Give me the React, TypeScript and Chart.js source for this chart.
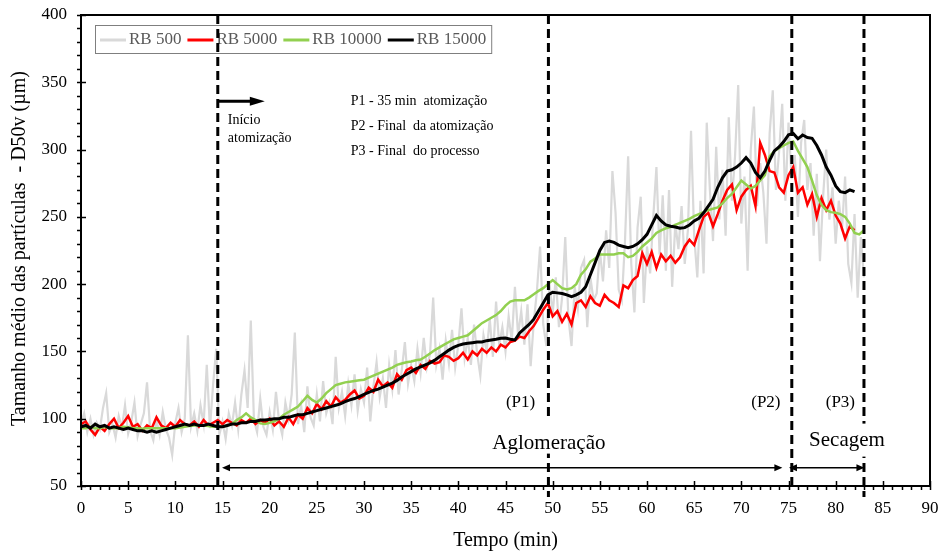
import React, { useEffect, useRef } from "react";
import { Chart, registerables } from "chart.js";

Chart.register(...registerables);

const FONT = '"Liberation Serif", "Times New Roman", serif';

// ---------- axes ----------
const X_MIN = 0;
const X_MAX = 90;
const X_STEP = 5;
const Y_MIN = 50;
const Y_MAX = 400;
const Y_STEP = 50;
const X_TITLE = "Tempo (min)";
const Y_TITLE = "Tamanho médio das partículas  - D50v (µm)";

// ---------- series ----------
const seriesNames = ["RB 500", "RB 5000", "RB 10000", "RB 15000"];

// RB 500: sampled every 1/3 min from t = 0
const rb500Start = 0;
const rb500Step = 1 / 3;
const rb500 = [
  96, 104, 90, 100, 88, 97, 92, 108, 119, 90, 96, 86, 102, 93, 110,
  89, 98, 112, 87, 96, 104, 127, 91, 84, 99, 88, 105, 92, 86, 73,
  97, 108, 90, 100, 162, 94, 104, 91, 110, 96, 140, 93, 125, 152, 88,
  98, 85, 104, 95, 112, 92, 118, 136, 108, 173, 99, 90, 115, 94, 88,
  105, 92, 120, 98, 88, 112, 100, 118, 164, 96, 110, 90, 124, 101, 95,
  118, 98, 128, 104, 112, 96, 146, 108, 120, 102, 126, 110, 133, 106, 122,
  112, 138, 98, 124, 142, 116, 130, 108, 140, 122, 151, 118, 136, 157, 126,
  140, 128, 152, 134, 160, 138, 148, 190, 140, 152, 129, 158, 141, 166, 138,
  155, 182, 145, 160, 140, 170, 148, 132, 162, 150, 174, 146, 187, 155, 168,
  150, 176, 158, 198, 162, 180, 155, 185, 139, 172, 195, 228, 170, 154, 200,
  178, 205, 168, 190, 235, 175, 154, 198, 182, 212, 218, 168, 205, 188, 193,
  225, 202, 240, 212, 284, 253, 196, 188, 232, 295, 215, 179, 242, 265, 186,
  228, 208, 250, 287, 222, 266, 210, 270, 198, 245, 226, 258, 215, 240, 314,
  236, 205, 262, 208, 320, 270, 232, 302, 248, 285, 236, 324, 262, 295, 348,
  245, 280, 210, 300, 332, 258, 290, 268, 230, 312, 344, 270, 298, 334, 262,
  320, 278, 296, 250, 305, 322, 270, 290, 236, 282, 217, 265, 300, 248, 272,
  230, 262, 240, 280, 215, 201, 252, 190, 235, 205,
];

// RB 5000: sampled every 0.5 min from t = 0
const rb5000Start = 0;
const rb5000Step = 0.5;
const rb5000 = [
  96, 98, 92, 88, 94, 91, 96, 100, 93, 97,
  102, 94, 96, 91, 95, 93, 101, 95, 93, 97,
  94, 99, 96, 95, 98, 94, 99, 95, 97, 99,
  96, 99, 97, 95, 99, 97, 100, 96, 99, 97,
  100, 95, 98, 94, 101, 96, 103, 100, 108, 104,
  111, 107, 113, 109, 116, 112, 114, 118, 121, 115,
  117, 123, 120, 129, 124, 127, 123, 133, 129, 136,
  138, 134, 140, 137, 143, 141, 142, 147, 146, 143,
  145, 149, 144, 150, 147, 152, 149, 153, 150, 155,
  153, 157, 158, 161, 160, 165, 169, 175, 181, 186,
  176, 180, 172, 178, 170, 186, 188, 183, 191, 186,
  184, 192, 188, 186, 183, 199, 197, 203, 206, 223,
  215, 224, 212, 222, 217, 221, 216, 220, 228, 233,
  229, 240, 250, 253, 243, 252, 262, 270, 274, 255,
  265, 270, 273, 258, 305, 296, 284, 283, 272, 268,
  281, 287, 268, 272, 259, 267, 250, 264, 255, 262,
  251, 245, 234, 243, 240,
];

// RB 10000: sampled every 0.5 min from t = 0
const rb10000Start = 0;
const rb10000Step = 0.5;
const rb10000 = [
  93, 93, 94, 93, 93, 94, 93, 93, 93, 94,
  93.6, 93, 93, 92.5, 93, 93, 93, 93, 93, 93,
  93, 93.5, 94, 94.5, 95, 95, 95, 94.5, 94, 94,
  94, 95, 96, 99, 101, 104, 101, 99, 96.5, 96,
  97, 98, 100, 103, 105, 107, 109, 113, 117, 114,
  112, 115, 119, 122, 125, 126, 127, 127.5, 128, 128.5,
  129, 130.5, 132, 133.5, 135, 136.5, 138, 140, 141, 142,
  142.5, 143.5, 144, 146, 148.5, 151, 153, 155, 157, 159,
  160, 161, 162, 165, 168, 171, 173, 175, 177, 180,
  184, 187, 188, 188, 188, 190, 192.5, 195, 197, 200,
  203, 200, 197, 196, 197, 200, 207, 211, 216.7, 219,
  222, 222, 222, 222, 223, 223, 220, 221, 224, 228,
  231, 234, 238, 240, 241.5, 242.5, 244, 245.5, 247, 248.5,
  250.5, 252, 253.5, 255, 256, 257, 260, 264, 267, 272,
  277, 274, 271, 273, 277, 281, 295, 299, 301, 303,
  305, 306, 299, 293, 287, 277, 266, 259, 255, 253.5,
  253, 252, 250, 245, 238, 237, 240,
];

// RB 15000: sampled every 0.5 min from t = 0
const rb15000Start = 0;
const rb15000Step = 0.5;
const rb15000 = [
  94, 95, 93, 96, 94, 95, 93, 94, 93, 92,
  93, 92, 91, 91, 90, 91, 90, 91, 92, 93,
  94, 95, 96, 95, 96, 95, 95, 96, 95, 94,
  94, 95, 96, 96, 97, 97, 98, 98, 99, 99,
  99.5, 100, 100, 101, 101, 102, 103, 103, 104, 105,
  106, 107, 108, 109, 110, 111, 112.7, 114, 115, 116.5,
  118, 119.5, 121, 122, 123.5, 125, 126.5, 128.5, 131, 133,
  135, 137, 138.5, 140, 141.5, 143.5, 146, 148.5, 151, 153,
  154.5, 155.5, 156, 156.5, 157, 157, 158, 158.5, 159, 159.8,
  160, 159, 158.5, 163.7, 167, 170, 174, 180, 186, 192,
  194, 193.5, 193, 192, 190.7, 192, 194, 198, 207, 216,
  225, 231, 232, 231, 229, 228, 227, 228, 230, 233,
  237, 244, 251, 247, 244, 243, 242.5, 241.5, 242, 244,
  247, 249, 253, 258, 263, 272, 279, 284, 285, 287,
  290, 294, 290, 283, 279, 284, 292, 299, 302, 306,
  311, 312, 308, 310.8, 309, 308.4, 303, 296, 287, 281,
  273, 268.7, 268, 270, 268.7,
];

// ---------- annotations (time in min, value in µm) ----------
const phaseLines = [14.5, 49.55, 75.35, 83.0];
const phaseLabels = ["(P1)", "(P2)", "(P3)"];
const phaseLabelTimes = [46.6, 72.6, 80.5];
const phaseLabelValue = 112;
const stageNames = ["Aglomeração", "Secagem"];
const stageTimes = [49.6, 81.2];
const stageValue = 81.5;
const arrowSpans = [
  [14.95, 74.35],
  [75.05, 83.05],
];
const arrowValue = 63.5;
const startLabel = ["Início", "atomização"];
const notes = ["P1 - 35 min  atomização", "P2 - Final  da atomização", "P3 - Final  do processo"];

const COLORS = ["#d9d9d9", "#ff0000", "#92d050", "#000000"];

function toPoints(start: number, step: number, values: number[]) {
  return values.map((v, i) => ({ x: start + i * step, y: v }));
}

const overlayPlugin = {
  id: "overlay",
  afterDraw(chart: any) {
    const { ctx, chartArea: ca } = chart;
    const xs = chart.scales.x;
    const ys = chart.scales.y;
    const X = (t: number) => xs.getPixelForValue(t);
    const Y = (v: number) => ys.getPixelForValue(v);
    ctx.save();

    // frame
    ctx.strokeStyle = "#000";
    ctx.lineWidth = 2;
    ctx.strokeRect(ca.left, ca.top, ca.right - ca.left, ca.bottom - ca.top);

    // ticks: major cross, minor outside
    ctx.lineWidth = 1.5;
    ctx.beginPath();
    for (let t = X_MIN; t <= X_MAX; t += 1) {
      const px = Math.round(X(t)) + 0.5;
      const major = t % X_STEP === 0;
      ctx.moveTo(px, major ? ca.bottom - 5 : ca.bottom);
      ctx.lineTo(px, ca.bottom + 4);
    }
    for (let v = Y_MIN; v <= Y_MAX; v += 10) {
      const py = Math.round(Y(v)) + 0.5;
      const major = v % Y_STEP === 0;
      ctx.moveTo(ca.left - 4, py);
      ctx.lineTo(major ? ca.left + 5 : ca.left, py);
    }
    ctx.stroke();

    // axis titles
    ctx.fillStyle = "#000";
    ctx.font = `20px ${FONT}`;
    ctx.textAlign = "center";
    ctx.textBaseline = "middle";
    ctx.fillText(X_TITLE, (ca.left + ca.right) / 2, 541);
    ctx.save();
    ctx.translate(20, (ca.top + ca.bottom) / 2 - 2);
    ctx.rotate(-Math.PI / 2);
    ctx.fillText(Y_TITLE, 0, 0);
    ctx.restore();

    // legend box
    ctx.font = `17px ${FONT}`;
    ctx.textAlign = "left";
    ctx.textBaseline = "middle";
    const boxLeft = ca.left + 14;
    const boxTop = ca.top + 10;
    const boxH = 28;
    const midY = boxTop + boxH / 2 + 1;
    let cur = boxLeft + 5;
    seriesNames.forEach((name, i) => {
      ctx.strokeStyle = COLORS[i];
      ctx.lineWidth = 3;
      ctx.beginPath();
      ctx.moveTo(cur, midY);
      ctx.lineTo(cur + 26, midY);
      ctx.stroke();
      cur += 29;
      ctx.fillStyle = "#595959";
      ctx.fillText(name, cur, midY);
      cur += ctx.measureText(name).width + 6;
    });
    const boxRight = cur - 6 + 5;
    ctx.strokeStyle = "#7f7f7f";
    ctx.lineWidth = 1;
    ctx.strokeRect(boxLeft + 0.5, boxTop + 0.5, boxRight - boxLeft, boxH);

    // dashed phase lines
    ctx.strokeStyle = "#000";
    ctx.lineWidth = 3;
    ctx.setLineDash([9, 5]);
    phaseLines.forEach((t, i) => {
      const px = X(t);
      const ext = i === 1 || i === 3 ? 11 : 0;
      ctx.beginPath();
      ctx.moveTo(px, ca.top);
      ctx.lineTo(px, ca.bottom + ext);
      ctx.stroke();
    });
    ctx.setLineDash([]);

    // start-of-atomization arrow
    const ay = Y(336);
    const ax0 = X(phaseLines[0]);
    const ax1 = ax0 + 47;
    ctx.lineWidth = 3;
    ctx.beginPath();
    ctx.moveTo(ax0, ay);
    ctx.lineTo(ax1 - 12, ay);
    ctx.stroke();
    ctx.fillStyle = "#000";
    ctx.beginPath();
    ctx.moveTo(ax1, ay);
    ctx.lineTo(ax1 - 15, ay - 4.5);
    ctx.lineTo(ax1 - 15, ay + 4.5);
    ctx.closePath();
    ctx.fill();

    // small texts
    ctx.font = `14px ${FONT}`;
    ctx.textAlign = "left";
    ctx.fillStyle = "#000";
    ctx.fillText(startLabel[0], ax0 + 10, Y(322));
    ctx.fillText(startLabel[1], ax0 + 10, Y(308.6));
    notes.forEach((n, i) => {
      ctx.fillText(n, X(28.6), Y(335.6 - i * 18.6));
    });

    // phase labels
    ctx.font = `17px ${FONT}`;
    ctx.textAlign = "center";
    phaseLabels.forEach((l, i) => {
      ctx.fillText(l, X(phaseLabelTimes[i]), Y(phaseLabelValue));
    });

    // stage labels with white mask
    ctx.font = `21px ${FONT}`;
    stageNames.forEach((s, i) => {
      const cx = X(stageTimes[i]);
      const cy = Y(stageValue) + (i === 1 ? -3 : 0);
      const w = ctx.measureText(s).width;
      ctx.fillStyle = "#fff";
      if (i === 0) {
        ctx.fillRect(cx - w / 2 - 4, cy - 26, w + 8, 36);
      } else {
        ctx.fillRect(cx - w / 2 - 2, cy - 17, w + 4, 33);
      }
      ctx.fillStyle = "#000";
      ctx.fillText(s, cx, cy);
    });

    // double arrows
    ctx.lineWidth = 1.5;
    ctx.strokeStyle = "#000";
    const aY = Y(arrowValue);
    arrowSpans.forEach(([a, b]) => {
      const x0 = X(a);
      const x1 = X(b);
      ctx.beginPath();
      ctx.moveTo(x0 + 5, aY);
      ctx.lineTo(x1 - 5, aY);
      ctx.stroke();
      ctx.beginPath();
      ctx.moveTo(x0, aY);
      ctx.lineTo(x0 + 8, aY - 3.5);
      ctx.lineTo(x0 + 8, aY + 3.5);
      ctx.closePath();
      ctx.moveTo(x1, aY);
      ctx.lineTo(x1 - 8, aY - 3.5);
      ctx.lineTo(x1 - 8, aY + 3.5);
      ctx.closePath();
      ctx.fill();
    });

    ctx.restore();
  },
};

export default function App() {
  const ref = useRef<HTMLCanvasElement | null>(null);

  useEffect(() => {
    document.body.style.margin = "0";
    const canvas = ref.current;
    if (!canvas) return;
    const data = [
      toPoints(rb500Start, rb500Step, rb500),
      toPoints(rb5000Start, rb5000Step, rb5000),
      toPoints(rb10000Start, rb10000Step, rb10000),
      toPoints(rb15000Start, rb15000Step, rb15000),
    ];
    const widths = [2.2, 2.5, 2.5, 3];
    const chart = new Chart(canvas, {
      type: "line",
      data: {
        datasets: seriesNames.map((name, i) => ({
          label: name,
          data: data[i],
          borderColor: COLORS[i],
          backgroundColor: COLORS[i],
          borderWidth: widths[i],
          pointRadius: 0,
          tension: 0,
          fill: false,
          order: 4 - i,
        })),
      },
      options: {
        animation: false,
        responsive: false,
        devicePixelRatio: 1,
        layout: { padding: { top: 15, right: 10, left: 0, bottom: 0 } },
        plugins: { legend: { display: false }, tooltip: { enabled: false } },
        scales: {
          x: {
            type: "linear",
            min: X_MIN,
            max: X_MAX,
            ticks: {
              stepSize: X_STEP,
              autoSkip: false,
              maxRotation: 0,
              padding: 4,
              color: "#000",
              font: { family: FONT, size: 17 },
            },
            grid: { display: false },
            border: { display: false },
            afterFit: (s: any) => {
              s.height = 68;
              s.paddingLeft = 0;
              s.paddingRight = 0;
            },
          },
          y: {
            type: "linear",
            min: Y_MIN,
            max: Y_MAX,
            ticks: {
              stepSize: Y_STEP,
              padding: 6,
              color: "#000",
              font: { family: FONT, size: 17 },
            },
            grid: { display: false },
            border: { display: false },
            afterFit: (s: any) => {
              s.width = 81;
              s.paddingTop = 0;
              s.paddingBottom = 0;
            },
          },
        },
      },
      plugins: [overlayPlugin],
    });
    return () => chart.destroy();
  }, []);

  return (
    <div style={{ width: 940, height: 554 }}>
      <canvas ref={ref} width={940} height={554} style={{ display: "block" }} />
    </div>
  );
}
